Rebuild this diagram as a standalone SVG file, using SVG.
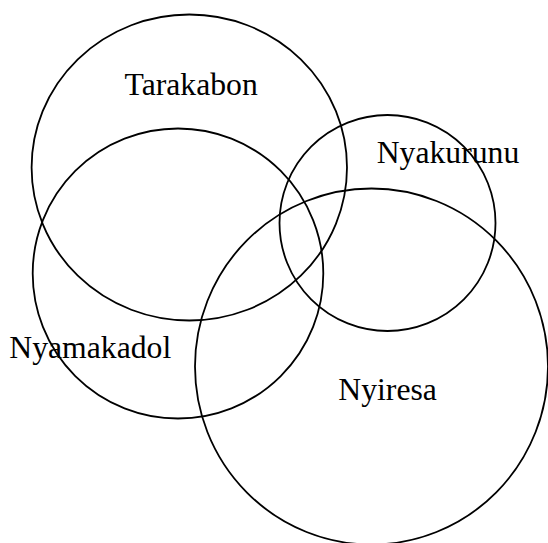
<svg xmlns="http://www.w3.org/2000/svg" width="548" height="543" viewBox="0 0 548 543">
<style>
.c{fill:none;stroke:#000;stroke-width:1.8}
.t{font-family:"Liberation Serif","Times New Roman",serif;font-size:31.7px;fill:#000}
</style>
<rect width="548" height="543" fill="#fff"/>
<g id="tarakabon"><ellipse class="c" cx="189.3" cy="167.5" rx="157.7" ry="153"/><text class="t" x="124.5" y="95">Tarakabon</text></g>
<g id="nyamakadol"><ellipse class="c" cx="178" cy="273.5" rx="145.3" ry="145"/><text class="t" x="9.3" y="358.3">Nyamakadol</text></g>
<g id="nyakurunu"><ellipse class="c" cx="387.5" cy="223" rx="108" ry="108"/><text class="t" x="376.7" y="163.3">Nyakurunu</text></g>
<g id="nyiresa"><ellipse class="c" cx="371.5" cy="366.5" rx="176.5" ry="178"/><text class="t" x="338.3" y="400">Nyiresa</text></g>
<g id="connectors"/>
</svg>
